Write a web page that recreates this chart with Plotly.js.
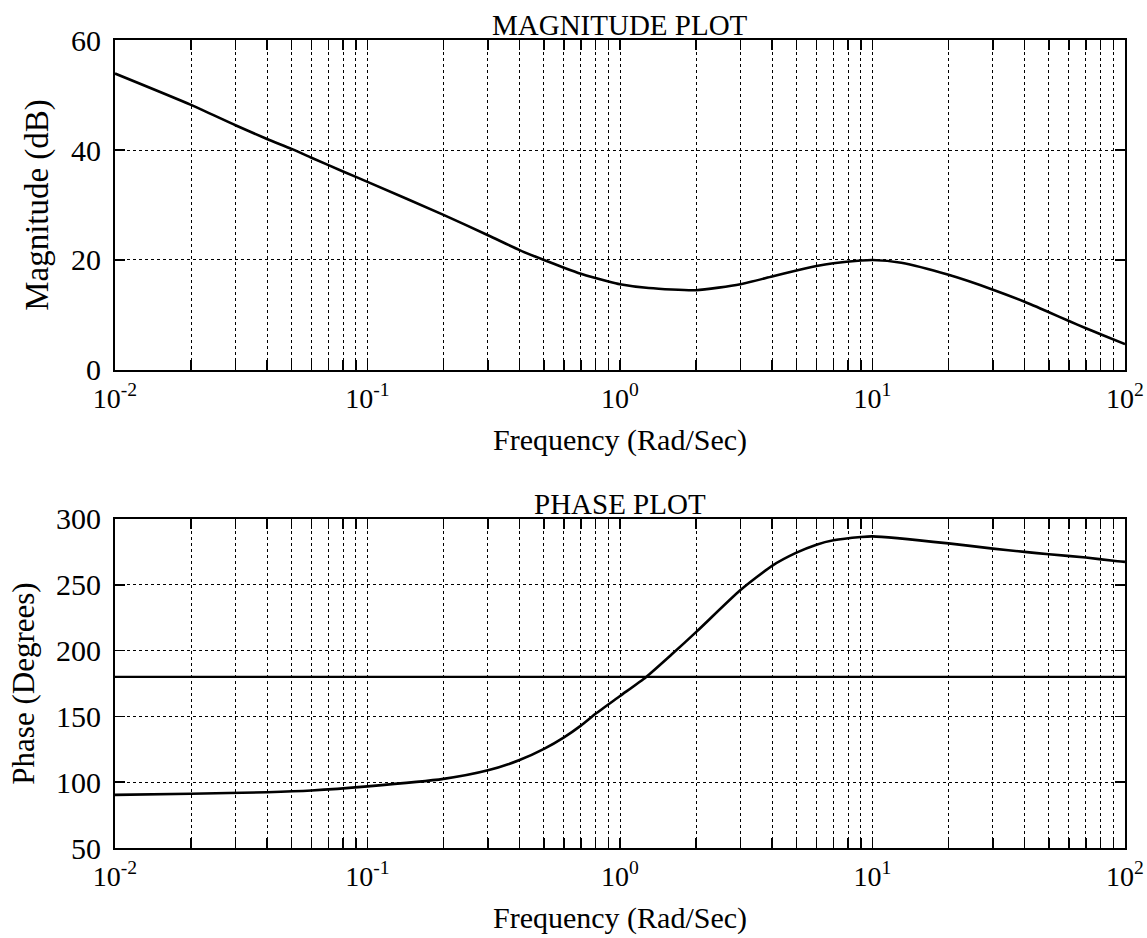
<!DOCTYPE html>
<html>
<head>
<meta charset="utf-8">
<script src="https://cdn.plot.ly/plotly-3.0.1.min.js"></script>
<style>
  html, body { margin: 0; padding: 0; background: #fff; }
  #chart { width: 1147px; height: 938px; }
</style>
</head>
<body>
<div id="chart"></div>
<script>
// ---- data ----
const freqMag = [0.01, 0.02, 0.03, 0.04, 0.05, 0.06, 0.08, 0.1, 0.2, 0.3, 0.4, 0.5, 0.6, 0.7, 0.9, 1.0, 1.3, 2, 3, 4, 5, 6, 7, 9, 10, 13, 20, 30, 40, 50, 60, 70, 80, 100];
const magDb   = [53.9, 48.2, 44.5, 42.0, 40.2, 38.6, 36.1, 34.2, 28.2, 24.5, 21.8, 20.0, 18.6, 17.5, 16.1, 15.6, 14.9, 14.5, 15.6, 17.0, 18.1, 18.9, 19.4, 19.9, 20.0, 19.5, 17.3, 14.6, 12.4, 10.5, 8.9, 7.6, 6.5, 4.7];

const freqPh  = [0.01, 0.02, 0.04, 0.06, 0.1, 0.2, 0.3, 0.4, 0.5, 0.6, 0.7, 0.8, 1.0, 1.27, 1.6, 2, 3, 4, 5, 6, 7, 9, 10, 20, 30, 40, 50, 70, 90, 100];
const phaseDeg = [90.4, 91.2, 92.4, 93.7, 96.8, 102.5, 109, 116.8, 125.3, 134.1, 143, 152, 165.5, 180, 197, 214, 246, 264.4, 274.4, 280.5, 283.8, 286.3, 286.8, 281.5, 277.5, 275, 273.2, 270.7, 268.2, 267.4];

const refFreq  = [0.01, 100];
const refPhase = [180, 180];

const decades = [-2, -1, 0, 1, 2];
const decadeLabels = ["10<sup>-2</sup>", "10<sup>-1</sup>", "10<sup>0</sup>", "10<sup>1</sup>", "10<sup>2</sup>"];
const magTicks = [0, 20, 40, 60];
const phaseTicks = [50, 100, 150, 200, 250, 300];

// log-axis grid positions (1..9 x each decade)
const xTickVals = [];
const xTickText = [];
decades.forEach((d, i) => {
  const base = Math.pow(10, d);
  const maxM = (i === decades.length - 1) ? 1 : 9;
  for (let m = 1; m <= maxM; m++) {
    xTickVals.push(m * base);
    xTickText.push(m === 1 ? decadeLabels[i] : "");
  }
});

const FONT = "Liberation Serif, Times New Roman, serif";

const traces = [
  { x: freqMag, y: magDb, xaxis: "x", yaxis: "y", mode: "lines",
    line: { color: "#000", width: 2.6, shape: "spline", smoothing: 0.6 }, hoverinfo: "x+y" },
  { x: freqPh, y: phaseDeg, xaxis: "x2", yaxis: "y2", mode: "lines",
    line: { color: "#000", width: 2.6, shape: "spline", smoothing: 0.6 }, hoverinfo: "x+y" },
  { x: refFreq, y: refPhase, xaxis: "x2", yaxis: "y2", mode: "lines",
    line: { color: "#000", width: 2.2 }, hoverinfo: "skip" }
];

function xAxis(anchor) {
  return {
    type: "log", range: [-2, 2], anchor: anchor,
    tickmode: "array", tickvals: xTickVals, ticktext: xTickText,
    ticks: "inside", ticklen: 10, tickwidth: 1.5, tickcolor: "#000",
    showline: true, linecolor: "#000", linewidth: 2, mirror: "ticks",
    showgrid: true, gridcolor: "#000", griddash: "dot", gridwidth: 1,
    zeroline: false, ticklabelstandoff: 2, ticklabeloverflow: "allow",
    tickfont: { family: FONT, size: 28, color: "#000" },
    title: { text: "Frequency (Rad/Sec)", font: { family: FONT, size: 30, color: "#000" }, standoff: 16 }
  };
}
function yAxis(anchor, domain, range, ticks, title, tsize) {
  return {
    domain: domain, range: range, anchor: anchor,
    tickmode: "array", tickvals: ticks,
    ticks: "inside", ticklen: 10, tickwidth: 1.5, tickcolor: "#000",
    showline: true, linecolor: "#000", linewidth: 2, mirror: "ticks",
    showgrid: true, gridcolor: "#000", griddash: "dot", gridwidth: 1,
    zeroline: false, ticklabelstandoff: 6,
    tickfont: { family: FONT, size: 30, color: "#000" },
    title: { text: title, font: { family: FONT, size: tsize, color: "#000" }, standoff: 12 }
  };
}

const layout = {
  width: 1147, height: 938,
  margin: { l: 115, r: 22, t: 40, b: 90 },
  paper_bgcolor: "#fff", plot_bgcolor: "#fff",
  showlegend: false,
  font: { family: FONT, color: "#000" },
  xaxis: xAxis("y"),
  yaxis: yAxis("x", [0.5916, 1], [0, 60], magTicks, "Magnitude (dB)", 33),
  xaxis2: xAxis("y2"),
  yaxis2: yAxis("x2", [0, 0.4072], [50, 300], phaseTicks, "Phase (Degrees)", 31),
  annotations: [
    { text: "MAGNITUDE PLOT", xref: "paper", yref: "paper", x: 0.5, y: 1, xanchor: "center", yanchor: "bottom",
      showarrow: false, yshift: -3, font: { family: FONT, size: 29, color: "#000" } },
    { text: "PHASE PLOT", xref: "paper", yref: "paper", x: 0.5, y: 0.4072, xanchor: "center", yanchor: "bottom",
      showarrow: false, yshift: -3, font: { family: FONT, size: 29, color: "#000" } }
  ]
};

Plotly.newPlot("chart", traces, layout, { displayModeBar: false, staticPlot: true });
</script>
</body>
</html>
